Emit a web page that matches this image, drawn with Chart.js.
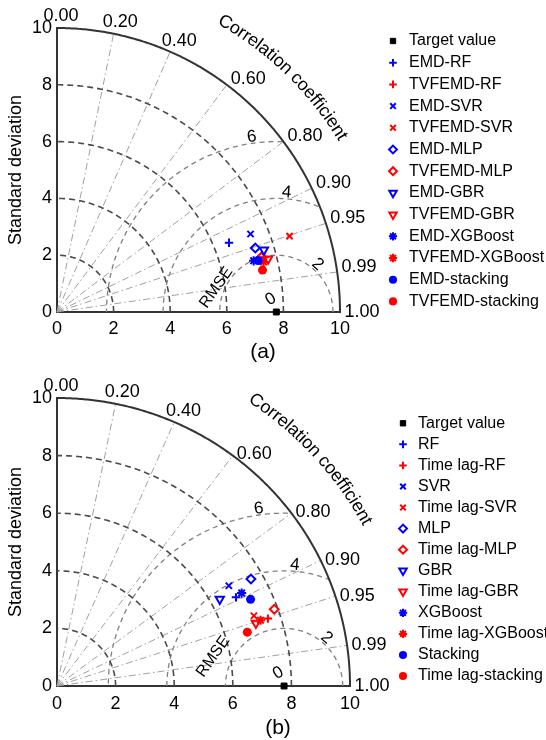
<!DOCTYPE html>
<html>
<head>
<meta charset="utf-8">
<script src="https://cdn.jsdelivr.net/npm/chart.js@4.4.1/dist/chart.umd.min.js"></script>
<style>
  body { margin: 0; background: #fff; }
  .panel { position: absolute; left: 0; width: 546px; height: 370px; }
</style>
</head>
<body>
<div class="panel" style="top:0"><canvas id="chartA" width="546" height="370"></canvas></div>
<div class="panel" style="top:370px"><canvas id="chartB" width="546" height="370"></canvas></div>
<script>
const FONT = "'Liberation Sans', Arial, Helvetica, sans-serif";

// (a) EMD / TVFEMD models
const modelsA = ['EMD-RF', 'TVFEMD-RF', 'EMD-SVR', 'TVFEMD-SVR', 'EMD-MLP', 'TVFEMD-MLP',
  'EMD-GBR', 'TVFEMD-GBR', 'EMD-XGBoost', 'TVFEMD-XGBoost', 'EMD-stacking', 'TVFEMD-stacking'];
const stdA = [6.55, 7.58, 7.37, 8.64, 7.36, 7.48, 7.63, 7.69, 7.18, 7.51, 7.34, 7.41];
const corrA = [0.928, 0.967, 0.928, 0.951, 0.952, 0.966, 0.958, 0.970, 0.968, 0.972, 0.969, 0.980];

// (b) plain / time lag models
const modelsB = ['RF', 'Time lag-RF', 'SVR', 'Time lag-SVR', 'MLP', 'Time lag-MLP',
  'GBR', 'Time lag-GBR', 'XGBoost', 'Time lag-XGBoost', 'Stacking', 'Time lag-stacking'];
const stdB = [6.84, 7.57, 6.82, 7.15, 7.59, 7.88, 6.32, 7.13, 7.08, 7.31, 7.26, 6.76];
const corrB = [0.893, 0.951, 0.860, 0.940, 0.872, 0.941, 0.879, 0.952, 0.890, 0.950, 0.910, 0.961];

const targetStd = 7.75;
const stdArcs = [2, 4, 6, 8];
const rmseArcs = [2, 4, 6];
const corrTicks = [0, 0.2, 0.4, 0.6, 0.8, 0.9, 0.95, 0.99, 1];

// marker per model pair (blue = first, red = second)
const markers = [
  { style: 'cross', rot: 0, r: 4.2 },
  { style: 'crossRot', rot: 0, r: 4.4 },
  { style: 'rectRot', rot: 0, r: 4.4 },
  { style: 'triangle', rot: 180, r: 4.8 },
  { style: 'star', rot: 0, r: 4.6 },
  { style: 'circle', rot: 0, r: 4.5, fill: true },
];

const rad = (d) => d * Math.PI / 180;

// Taylor grid, labels and legend
const taylorPlugin = {
  id: 'taylor',
  beforeDatasetsDraw(chart, args, o) {
    const ctx = chart.ctx;
    const sx = chart.scales.x, sy = chart.scales.y;
    const P = (x, y) => [sx.getPixelForValue(x), sy.getPixelForValue(y)];
    const rmax = sx.max;
    const arcPts = (cx, r, a0, a1) => {
      const pts = [];
      for (let k = 0; k <= 240; k++) {
        const a = a0 + (a1 - a0) * k / 240;
        pts.push(P(cx + r * Math.cos(a), r * Math.sin(a)));
      }
      return pts;
    };
    const stroke = (pts, color, width, dash) => {
      ctx.beginPath();
      pts.forEach((p, i) => (i ? ctx.lineTo(p[0], p[1]) : ctx.moveTo(p[0], p[1])));
      ctx.strokeStyle = color;
      ctx.lineWidth = width;
      ctx.setLineDash(dash);
      ctx.stroke();
    };

    ctx.save();
    // RMSE circles, only inside the quarter disc
    ctx.save();
    ctx.beginPath();
    const o0 = P(0, 0);
    ctx.moveTo(o0[0], o0[1]);
    arcPts(0, rmax, 0, Math.PI / 2).forEach((p) => ctx.lineTo(p[0], p[1]));
    ctx.closePath();
    ctx.clip();
    rmseArcs.forEach((r) => stroke(arcPts(targetStd, r, 0, Math.PI), '#808080', 1.3, [5, 4]));
    ctx.restore();

    // correlation rays
    corrTicks.filter((c) => c > 0 && c < 1).forEach((c) => {
      stroke([P(0, 0), P(rmax * c, rmax * Math.sqrt(1 - c * c))], '#a0a0a0', 1, [7, 3, 1.5, 3]);
    });
    // standard deviation arcs
    stdArcs.forEach((s) => stroke(arcPts(0, s, 0, Math.PI / 2), '#4a4a4a', 1.6, [6, 4]));
    // outer arc
    stroke(arcPts(0, rmax, 0, Math.PI / 2), '#333', 2, []);

    // correlation labels
    ctx.fillStyle = '#000';
    ctx.font = '18px ' + FONT;
    ctx.textBaseline = 'middle';
    corrTicks.forEach((c) => {
      const s = Math.sqrt(1 - c * c);
      if (c < 0.5) {
        const p = P(10.45 * c, 10.45 * s);
        ctx.textAlign = 'center';
        ctx.fillText(c.toFixed(2), p[0] + 4, p[1] + 1);
      } else {
        const p = P(10.05 * c, 10.05 * s);
        ctx.textAlign = 'left';
        ctx.fillText(c.toFixed(2), p[0] + 3, p[1] + (c < 1 ? o.corrDy : 0));
      }
    });

    // RMSE labels
    ctx.textAlign = 'center';
    ctx.font = '17px ' + FONT;
    const labelAngles = [49, 85, 98];
    rmseArcs.forEach((r, i) => {
      const a = rad(labelAngles[i]);
      const p = P(targetStd + (r + 0.22) * Math.cos(a), (r + 0.22) * Math.sin(a));
      ctx.save();
      ctx.translate(p[0], p[1]);
      ctx.rotate(Math.PI / 2 - a);
      ctx.fillText(String(r), 0, 0);
      ctx.restore();
    });
    let p = P(targetStd - 0.2, 0.45);
    ctx.save();
    ctx.translate(p[0], p[1]);
    ctx.rotate(rad(-30));
    ctx.fillText('0', 0, 0);
    ctx.restore();
    p = P(o.rmseAt[0], o.rmseAt[1]);
    ctx.save();
    ctx.translate(p[0], p[1]);
    ctx.rotate(rad(-55));
    ctx.font = '16px ' + FONT;
    ctx.fillText('RMSE', 0, 0);
    ctx.restore();

    // curved axis title
    ctx.font = '18px ' + FONT;
    const text = 'Correlation coefficient';
    const cx = o0[0], cy = o0[1];
    const rx = sx.getPixelForValue(o.titleR) - cx;
    const ry = cy - sy.getPixelForValue(o.titleR);
    const rAvg = (rx + ry) / 2;
    const chars = [...text];
    const widths = chars.map((ch) => ctx.measureText(ch).width);
    const total = widths.reduce((a, b) => a + b, 0);
    let t = rad(o.titleMid) + total / (2 * rAvg);
    chars.forEach((ch, i) => {
      const tm = t - widths[i] / (2 * rAvg);
      ctx.save();
      ctx.translate(cx + rx * Math.cos(tm), cy - ry * Math.sin(tm));
      ctx.rotate(Math.PI / 2 - tm);
      ctx.fillText(ch, 0, 0);
      ctx.restore();
      t -= widths[i] / rAvg;
    });
    ctx.restore();
  },
  afterDraw(chart, args, o) {
    const ctx = chart.ctx;
    ctx.save();
    ctx.setLineDash([]);
    ctx.textAlign = 'left';
    ctx.textBaseline = 'middle';
    chart.data.datasets.forEach((ds, i) => {
      const y = o.legendY + i * o.legendStep;
      ctx.fillStyle = ds.pointBackgroundColor;
      ctx.strokeStyle = ds.pointBorderColor;
      ctx.lineWidth = ds.pointBorderWidth;
      Chart.helpers.drawPoint(ctx, {
        pointStyle: ds.pointStyle,
        rotation: ds.pointRotation || 0,
        radius: ds.pointRadius * 0.9,
        borderWidth: ds.pointBorderWidth,
      }, o.legendX, y);
      ctx.fillStyle = '#000';
      ctx.font = '16px ' + FONT;
      ctx.fillText(ds.label, o.legendTextX, y);
    });
    ctx.font = '21px ' + FONT;
    ctx.textAlign = 'center';
    ctx.fillText(o.tag, o.tagX, o.tagY);
    ctx.restore();
  },
};

function makeChart(id, models, stds, corrs, opts) {
  const datasets = [{
    label: 'Target value',
    data: [{ x: targetStd, y: 0 }],
    pointStyle: 'rect',
    pointRadius: 4.2,
    pointBackgroundColor: '#000',
    pointBorderColor: '#000',
    pointBorderWidth: 1,
    clip: false,
    order: -100,
  }];
  models.forEach((m, i) => {
    const mk = markers[Math.floor(i / 2)];
    const color = i % 2 ? '#ff0000' : '#0000ff';
    const c = corrs[i], s = stds[i];
    datasets.push({
      label: m,
      data: [{ x: s * c, y: s * Math.sqrt(1 - c * c) }],
      pointStyle: mk.style,
      pointRotation: mk.rot,
      pointRadius: mk.r,
      pointHoverRadius: mk.r,
      pointBackgroundColor: mk.fill ? color : 'rgba(0,0,0,0)',
      pointBorderColor: color,
      pointBorderWidth: mk.fill ? 0 : 2,
      clip: false,
      order: -i,
    });
  });

  const tickFont = { family: FONT, size: 18 };
  return new Chart(document.getElementById(id), {
    type: 'scatter',
    data: { datasets },
    options: {
      responsive: false,
      animation: false,
      events: [],
      layout: { padding: { left: 0, top: 28, right: opts.padRight, bottom: 0 } },
      scales: {
        x: {
          type: 'linear', min: 0, max: 10,
          ticks: { stepSize: 2, color: '#000', font: tickFont, padding: opts.xPad, maxRotation: 0 },
          grid: { display: false, drawTicks: false },
          border: { display: true, color: '#333', width: 2 },
          afterFit: (s) => { s.height = opts.xHeight; },
        },
        y: {
          type: 'linear', min: 0, max: 10,
          ticks: { stepSize: 2, color: '#000', font: tickFont, padding: 5 },
          grid: { display: false, drawTicks: false },
          border: { display: true, color: '#333', width: 2 },
          title: { display: true, text: 'Standard deviation', color: '#000', font: tickFont, padding: { top: 5, bottom: 0 } },
          afterFit: (s) => { s.width = 57; },
        },
      },
      plugins: {
        legend: { display: false },
        tooltip: { enabled: false },
        taylor: opts.taylor,
      },
    },
    plugins: [taylorPlugin],
  });
}

makeChart('chartA', modelsA, stdA, corrA, {
  padRight: 206, xHeight: 58, xPad: 6,
  taylor: {
    corrDy: -5, rmseAt: [5.63, 0.86], titleR: 11.8, titleMid: 46,
    legendX: 393, legendTextX: 409, legendY: 41, legendStep: 21.7,
    tag: '(a)', tagX: 263, tagY: 352,
  },
});

makeChart('chartB', modelsB, stdB, corrB, {
  padRight: 196, xHeight: 54, xPad: 7,
  taylor: {
    corrDy: 0, rmseAt: [5.33, 1.02], titleR: 12.0, titleMid: 42.3,
    legendX: 403, legendTextX: 418, legendY: 53.3, legendStep: 21.06,
    tag: '(b)', tagX: 278, tagY: 358,
  },
});
</script>
</body>
</html>
